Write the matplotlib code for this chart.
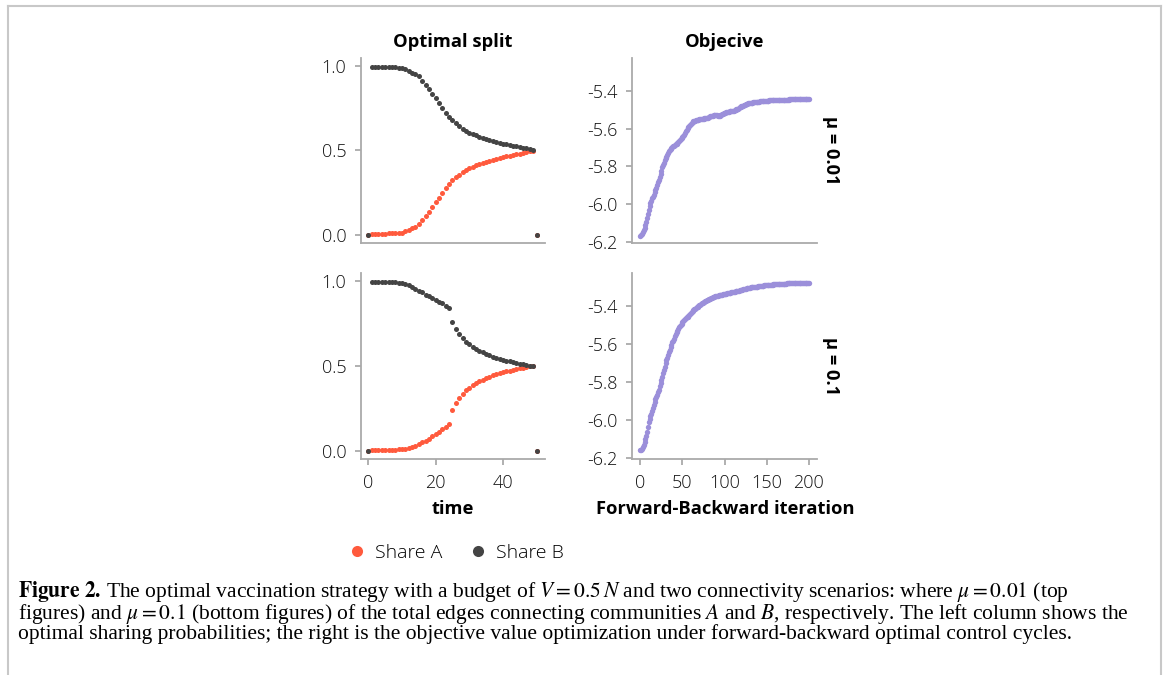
import numpy as np
import matplotlib
matplotlib.use('Agg')
import matplotlib.pyplot as plt
from matplotlib.lines import Line2D

plt.rcParams['font.family'] = ['Open Sans', 'DejaVu Sans']
plt.rcParams['axes.unicode_minus'] = False
plt.rcParams['mathtext.fontset'] = 'stix'

# time grid of the optimal split panels
time = np.arange(51)

share_a_top = [0.0, 0.008, 0.008, 0.008, 0.009, 0.009, 0.010, 0.010, 0.011, 0.012,
               0.015, 0.022, 0.031, 0.041, 0.050, 0.063, 0.088, 0.114, 0.139, 0.166,
               0.194, 0.221, 0.250, 0.278, 0.301, 0.323, 0.340, 0.356, 0.372, 0.384,
               0.395, 0.404, 0.412, 0.420, 0.427, 0.434, 0.440, 0.445, 0.451, 0.456,
               0.460, 0.465, 0.469, 0.473, 0.477, 0.481, 0.485, 0.489, 0.494, 0.498,
               0.0]
share_b_top = [0.0, 0.992, 0.992, 0.992, 0.991, 0.991, 0.990, 0.990, 0.989, 0.988,
               0.985, 0.978, 0.969, 0.959, 0.950, 0.937, 0.912, 0.886, 0.861, 0.834,
               0.806, 0.779, 0.750, 0.722, 0.699, 0.677, 0.660, 0.644, 0.628, 0.616,
               0.605, 0.596, 0.588, 0.580, 0.573, 0.566, 0.560, 0.555, 0.549, 0.544,
               0.540, 0.535, 0.531, 0.527, 0.523, 0.519, 0.515, 0.511, 0.506, 0.502,
               0.0]
share_a_bot = [0.0, 0.010, 0.010, 0.010, 0.010, 0.010, 0.010, 0.010, 0.010, 0.011,
               0.012, 0.015, 0.019, 0.025, 0.032, 0.042, 0.052, 0.063, 0.075, 0.087,
               0.100, 0.114, 0.128, 0.143, 0.158, 0.245, 0.284, 0.314, 0.337, 0.357,
               0.373, 0.386, 0.398, 0.410, 0.420, 0.429, 0.437, 0.445, 0.451, 0.457,
               0.463, 0.469, 0.473, 0.478, 0.482, 0.486, 0.490, 0.494, 0.498, 0.500,
               0.0]
share_b_bot = [0.0, 0.990, 0.990, 0.990, 0.990, 0.990, 0.990, 0.990, 0.990, 0.989,
               0.986, 0.980, 0.973, 0.963, 0.953, 0.941, 0.931, 0.919, 0.910, 0.898,
               0.886, 0.876, 0.867, 0.853, 0.839, 0.755, 0.716, 0.686, 0.663, 0.643,
               0.627, 0.614, 0.602, 0.590, 0.580, 0.571, 0.563, 0.555, 0.549, 0.543,
               0.537, 0.531, 0.527, 0.522, 0.518, 0.514, 0.510, 0.506, 0.502, 0.500,
               0.0]

# forward-backward iterations 0..200
iteration = np.arange(201)

objective_top = [
    -6.170, -6.165, -6.160, -6.150, -6.140, -6.125, -6.110, -6.095, -6.075, -6.050,
    -6.030, -6.012, -5.995, -5.982, -5.970, -5.960, -5.950, -5.938, -5.925, -5.912,
    -5.900, -5.885, -5.870, -5.855, -5.840, -5.822, -5.805, -5.792, -5.780, -5.767,
    -5.755, -5.748, -5.740, -5.730, -5.720, -5.713, -5.706, -5.700, -5.696, -5.693,
    -5.690, -5.687, -5.683, -5.680, -5.675, -5.670, -5.665, -5.660, -5.655, -5.650,
    -5.644, -5.637, -5.630, -5.622, -5.613, -5.605, -5.598, -5.591, -5.585, -5.580,
    -5.575, -5.570, -5.565, -5.560, -5.558, -5.557, -5.555, -5.554, -5.552, -5.551,
    -5.550, -5.549, -5.548, -5.547, -5.546, -5.545, -5.544, -5.543, -5.542, -5.541,
    -5.540, -5.538, -5.536, -5.534, -5.532, -5.530, -5.529, -5.528, -5.527, -5.526,
    -5.525, -5.527, -5.529, -5.531, -5.530, -5.528, -5.525, -5.522, -5.520, -5.518,
    -5.516, -5.514, -5.512, -5.510, -5.509, -5.508, -5.507, -5.506, -5.506, -5.505,
    -5.505, -5.503, -5.501, -5.499, -5.497, -5.495, -5.492, -5.489, -5.486, -5.483,
    -5.480, -5.478, -5.476, -5.474, -5.472, -5.470, -5.468, -5.466, -5.465, -5.463,
    -5.462, -5.461, -5.460, -5.460, -5.459, -5.458, -5.457, -5.457, -5.456, -5.456,
    -5.455, -5.455, -5.454, -5.454, -5.453, -5.453, -5.452, -5.452, -5.451, -5.451,
    -5.450, -5.450, -5.450, -5.449, -5.449, -5.449, -5.448, -5.448, -5.448, -5.447,
    -5.447, -5.447, -5.447, -5.446, -5.446, -5.446, -5.446, -5.445, -5.445, -5.445,
    -5.445, -5.445, -5.444, -5.444, -5.444, -5.444, -5.444, -5.443, -5.443, -5.443,
    -5.443, -5.443, -5.443, -5.442, -5.442, -5.442, -5.442, -5.442, -5.442, -5.441,
    -5.441, -5.441, -5.441, -5.441, -5.441, -5.441, -5.440, -5.440, -5.440, -5.440,
    -5.440]

objective_bot = [
    -6.160, -6.156, -6.150, -6.140, -6.130, -6.115, -6.100, -6.083, -6.065, -6.035,
    -6.010, -5.995, -5.980, -5.965, -5.950, -5.935, -5.920, -5.905, -5.890, -5.878,
    -5.865, -5.852, -5.840, -5.822, -5.805, -5.788, -5.770, -5.752, -5.735, -5.718,
    -5.700, -5.685, -5.670, -5.655, -5.640, -5.628, -5.615, -5.602, -5.590, -5.580,
    -5.570, -5.558, -5.547, -5.536, -5.527, -5.518, -5.510, -5.503, -5.496, -5.490,
    -5.484, -5.478, -5.472, -5.467, -5.462, -5.457, -5.453, -5.449, -5.444, -5.440,
    -5.435, -5.430, -5.425, -5.420, -5.416, -5.412, -5.409, -5.405, -5.401, -5.397,
    -5.393, -5.390, -5.387, -5.384, -5.381, -5.378, -5.375, -5.373, -5.370, -5.368,
    -5.365, -5.363, -5.360, -5.358, -5.356, -5.354, -5.352, -5.350, -5.349, -5.347,
    -5.346, -5.345, -5.343, -5.342, -5.341, -5.340, -5.339, -5.338, -5.336, -5.335,
    -5.334, -5.333, -5.332, -5.331, -5.330, -5.329, -5.328, -5.327, -5.326, -5.325,
    -5.324, -5.323, -5.322, -5.321, -5.321, -5.320, -5.318, -5.317, -5.315, -5.314,
    -5.312, -5.311, -5.310, -5.309, -5.307, -5.306, -5.305, -5.304, -5.302, -5.301,
    -5.300, -5.299, -5.299, -5.298, -5.298, -5.297, -5.297, -5.296, -5.295, -5.295,
    -5.294, -5.293, -5.293, -5.292, -5.291, -5.290, -5.290, -5.289, -5.289, -5.288,
    -5.288, -5.287, -5.287, -5.286, -5.286, -5.286, -5.285, -5.285, -5.284, -5.284,
    -5.283, -5.283, -5.282, -5.282, -5.281, -5.281, -5.280, -5.280, -5.280, -5.280,
    -5.279, -5.279, -5.279, -5.279, -5.278, -5.278, -5.278, -5.278, -5.278, -5.277,
    -5.277, -5.277, -5.277, -5.277, -5.277, -5.276, -5.276, -5.276, -5.276, -5.276,
    -5.276, -5.276, -5.276, -5.275, -5.275, -5.275, -5.275, -5.275, -5.275, -5.275,
    -5.275]

RED = '#ff5a3d'
DARK = '#444444'
PURPLE = '#9b8fda'
GREY = '#aaaaaa'

W, H = 1167, 675
fig = plt.figure(figsize=(W / 100, H / 100), dpi=100)


def box(x0, y0, x1, y1):
    return [x0 / W, 1 - y1 / H, (x1 - x0) / W, (y1 - y0) / H]


def style(ax):
    ax.spines['top'].set_visible(False)
    ax.spines['right'].set_visible(False)
    for s in ['left', 'bottom']:
        ax.spines[s].set_color(GREY)
        ax.spines[s].set_linewidth(1.3)
    ax.tick_params(color=GREY, width=1.3, length=4, labelsize=13,
                   labelcolor='#111111')
    ax.tick_params(axis='y', pad=6.5)
    ax.tick_params(axis='x', pad=7)
    for lab in ax.get_xticklabels() + ax.get_yticklabels():
        lab.set_fontweight('light')


ax_tl = fig.add_axes(box(361, 58, 545, 242.7))
ax_bl = fig.add_axes(box(361, 273, 545, 459))
ax_tr = fig.add_axes(box(632.3, 58.3, 817.3, 242.7))
ax_br = fig.add_axes(box(632.3, 273.3, 817.3, 459))

for ax, a, b in [(ax_tl, share_a_top, share_b_top), (ax_bl, share_a_bot, share_b_bot)]:
    ax.scatter(time, a, s=13, color=RED, linewidths=0, zorder=3)
    ax.scatter(time, b, s=13, color=DARK, linewidths=0, zorder=4)
    ax.set_xlim(-2.2, 52.5)
    ax.set_ylim(-0.045, 1.045)
    ax.set_yticks([0.0, 0.5, 1.0])
    ax.set_xticks([0, 20, 40])

for ax, obj in [(ax_tr, objective_top), (ax_br, objective_bot)]:
    ax.scatter(iteration, obj, s=15, color=PURPLE, linewidths=0, zorder=3)
    ax.set_xlim(-9.5, 210)
    ax.set_ylim(-6.205, -5.225)
    ax.set_yticks([-6.2, -6.0, -5.8, -5.6, -5.4])
    ax.set_xticks([0, 50, 100, 150, 200])

for ax in [ax_tl, ax_bl, ax_tr, ax_br]:
    ax.yaxis.set_major_formatter(matplotlib.ticker.FormatStrFormatter('%.1f'))
    style(ax)

for ax in [ax_tl, ax_tr]:
    ax.tick_params(axis='x', bottom=False, labelbottom=False)

bold = dict(ha='center', va='center', fontsize=13.2, fontweight='bold')
fig.text(453 / W, 1 - 42 / H, 'Optimal split', **bold)
fig.text(725 / W, 1 - 42 / H, 'Objecive', **bold)
fig.text(453 / W, 1 - 509 / H, 'time', **bold)
fig.text(725 / W, 1 - 509 / H, 'Forward-Backward iteration', **bold)
fig.text(831 / W, 1 - 150 / H, 'μ = 0.01', rotation=-90, **bold)
fig.text(831 / W, 1 - 366 / H, 'μ = 0.1', rotation=-90, **bold)

handles = [Line2D([], [], ls='', marker='o', markersize=8, color=RED, markeredgewidth=0),
           Line2D([], [], ls='', marker='o', markersize=8, color=DARK, markeredgewidth=0)]
leg = fig.legend(handles, ['Share A', 'Share B'], loc='center',
                 bbox_to_anchor=(457 / W, 1 - 553 / H), ncol=2, frameon=False,
                 handlelength=0.7, handletextpad=0.55, columnspacing=1.5,
                 prop={'size': 14, 'weight': 'light'})

caption = (
    r'$\mathbf{Figure\ 2.}\!$ The optimal vaccination strategy with a budget of '
    r'$V=0.5\,N$ and two connectivity scenarios: where $\mu=0.01$ (top' '\n'
    r'figures) and $\mu=0.1$ (bottom figures) of the total edges connecting '
    r'communities $A$ and $B$, respectively. The left column shows the' '\n'
    'optimal sharing probabilities; the right is the objective value '
    'optimization under forward-backward optimal control cycles.')
fig.text(18 / W, 1 - 579 / H, caption, fontsize=15.5, family='Liberation Serif',
         ha='left', va='top', linespacing=0.88)

# page frame around the figure
frame = dict(color='#c8c8c8', lw=1.5, transform=fig.transFigure)
fig.add_artist(Line2D([7.5 / W, 7.5 / W], [0, 1 - 5.5 / H], **frame))
fig.add_artist(Line2D([7.5 / W, 1161 / W], [1 - 5.5 / H, 1 - 5.5 / H], **frame))
fig.add_artist(Line2D([1161 / W, 1161 / W], [0, 1 - 5.5 / H], **frame))

fig.savefig('out.png', dpi=100)
